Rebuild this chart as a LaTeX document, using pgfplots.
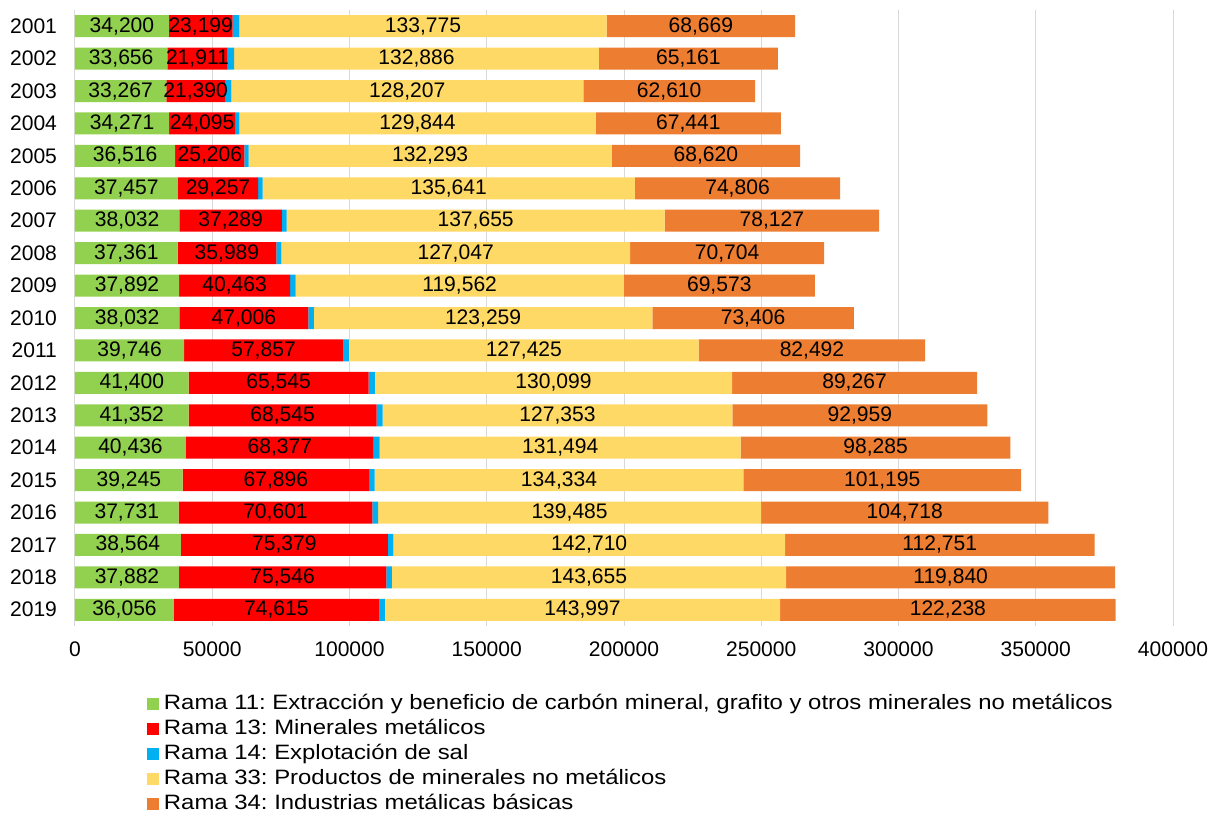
\documentclass[border=0pt]{standalone}
\usepackage{pgfplots}
\pgfplotsset{compat=1.18}
\usepackage{pgfplotstable}
\usepackage{fontspec}
\setmainfont{Liberation Sans}
\newfontfamily\legfont[FakeStretch=1.15]{Liberation Sans}
\definecolor{cG}{HTML}{92D050}
\definecolor{cR}{HTML}{FF0000}
\definecolor{cB}{HTML}{00B0F0}
\definecolor{cY}{HTML}{FFD966}
\definecolor{cO}{HTML}{ED7D31}
\definecolor{gridc}{HTML}{D9D9D9}
\pgfplotstableread{
year g r b y o
2001 34200 23199 2500 133775 68669
2002 33656 21911 2400 132886 65161
2003 33267 21390 2300 128207 62610
2004 34271 24095 1500 129844 67441
2005 36516 25206 1500 132293 68620
2006 37457 29257 1600 135641 74806
2007 38032 37289 1800 137655 78127
2008 37361 35989 1800 127047 70704
2009 37892 40463 2000 119562 69573
2010 38032 47006 2000 123259 73406
2011 39746 57857 2200 127425 82492
2012 41400 65545 2300 130099 89267
2013 41352 68545 2200 127353 92959
2014 40436 68377 2200 131494 98285
2015 39245 67896 2000 134334 101195
2016 37731 70601 2100 139485 104718
2017 38564 75379 2000 142710 112751
2018 37882 75546 2000 143655 119840
2019 36056 74615 2200 143997 122238
}\datatable
\pgfplotsset{
  /pgf/number format/assume math mode=true,
  /pgf/number format/fixed,
  /pgf/number format/precision=0,
}
\begin{document}
\frenchspacing
\begin{tikzpicture}[font=\fontsize{15.8}{18}\selectfont]
\useasboundingbox (-56.25pt,-142.5pt) rectangle (856.5pt,469.5pt);
\begin{axis}[
  scale only axis, width=823.5pt, height=462pt,
  at={(0pt,0pt)}, anchor=south west,
  xbar stacked, bar width=16.5pt,
  xmin=0, xmax=400000, xtick={0,50000,...,400000},
  scaled x ticks=false,
  xticklabel style={/pgf/number format/fixed, /pgf/number format/1000 sep={}, yshift=-8pt},
  ymin=2000.5, ymax=2019.5, y dir=reverse,
  ytick={2001,...,2019},
  yticklabel style={/pgf/number format/fixed, /pgf/number format/1000 sep={}, xshift=-10pt},
  axis line style={draw=none},
  major tick length=0pt,
  xmajorgrids, grid style={gridc, line width=0.75pt},
  every node near coord/.append style={anchor=center, text=black,
     /pgf/number format/fixed, /pgf/number format/precision=0, /pgf/number format/1000 sep={,}},
  legend cell align=left,
  legend style={at={(axis description cs:0,0)}, anchor=north west, xshift=54pt, yshift=-51pt,
     draw=none, fill=none, inner sep=0pt, row sep=3.75pt,
     font=\legfont\fontsize{15.6}{18}\selectfont,
     nodes={inner ysep=0pt, inner xsep=3.5pt, text height=11.5pt, text depth=3.5pt, anchor=west}},
  legend image code/.code={\fill[#1] (0pt,-4.5pt) rectangle (9pt,4.6pt);},
]
\addplot[fill=cG, draw=none, nodes near coords] table[x=g, y=year] {\datatable};
\addlegendentry{Rama 11: Extracción y beneficio de carbón mineral, grafito y otros minerales no metálicos}
\addplot[fill=cR, draw=none, nodes near coords] table[x=r, y=year] {\datatable};
\addlegendentry{Rama 13: Minerales metálicos}
\addplot[fill=cB, draw=none] table[x=b, y=year] {\datatable};
\addlegendentry{Rama 14: Explotación de sal}
\addplot[fill=cY, draw=none, nodes near coords] table[x=y, y=year] {\datatable};
\addlegendentry{Rama 33: Productos de minerales no metálicos}
\addplot[fill=cO, draw=none, nodes near coords] table[x=o, y=year] {\datatable};
\addlegendentry{Rama 34: Industrias metálicas básicas}
\end{axis}
\end{tikzpicture}
\end{document}
